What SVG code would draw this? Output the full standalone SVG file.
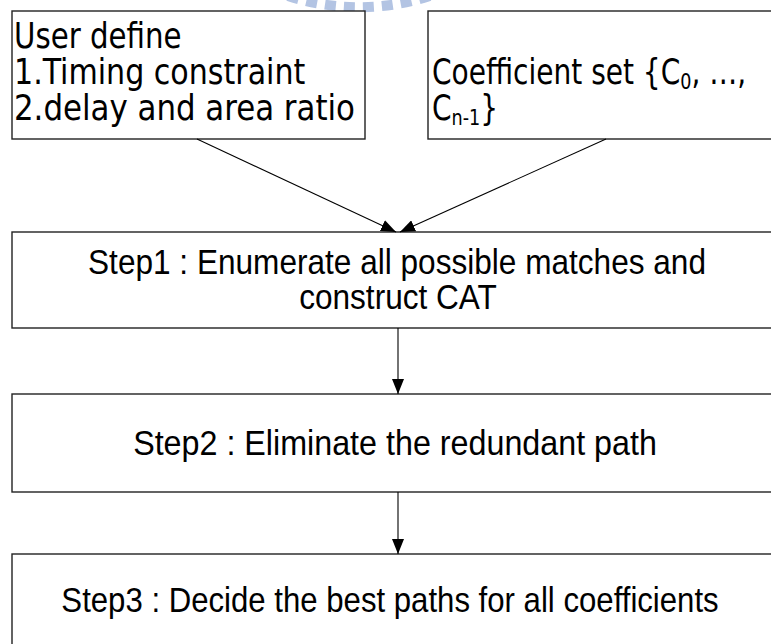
<svg xmlns="http://www.w3.org/2000/svg" width="771" height="644" viewBox="0 0 771 644">
  <style>
    .box { fill: #ffffff; stroke: #222222; stroke-width: 1.4; }
    .tah { font-family: "DejaVu Sans Condensed", "DejaVu Sans", sans-serif; font-size: 35px; fill: #000000; }
    .sub { font-size: 22px; baseline-shift: -5px; }
    .ari { font-family: "Liberation Sans", Arial, sans-serif; font-size: 35px; fill: #000000; text-anchor: middle; }
    .conn { stroke: #000000; stroke-width: 1.1; fill: none; marker-end: url(#arrow); }
  </style>
  <defs>
    <marker id="arrow" markerUnits="userSpaceOnUse" markerWidth="16" markerHeight="12" viewBox="0 0 16 12" refX="15" refY="6" orient="auto">
      <path d="M0 0 L15 6 L0 12 Z" fill="#000000"/>
    </marker>
  </defs>

  <rect width="771" height="644" fill="#ffffff"/>

  <!-- faint logo arc at the top edge -->
  <path d="M 288 -4 A 231 231 0 0 0 430 -4" fill="none" stroke="#b3c4e3" stroke-width="10" stroke-dasharray="11 8"/>

  <g id="user-define">
    <rect class="box" x="12" y="11" width="353" height="128"/>
    <text class="tah" transform="translate(14 48) scale(0.93 1)">User define</text>
    <text class="tah" transform="translate(14 84) scale(0.956 1)">1.Timing constraint</text>
    <text class="tah" transform="translate(14 120) scale(0.98 1)">2.delay and area ratio</text>
  </g>

  <g id="coefficient-set">
    <rect class="box" x="428" y="11" width="345" height="128"/>
    <text class="tah" transform="translate(432 84) scale(0.89 1)">Coefficient set {C<tspan class="sub">0</tspan>, …,</text>
    <text class="tah" transform="translate(432 120) scale(0.89 1)">C<tspan class="sub">n-1</tspan>}</text>
  </g>

  <g id="step1">
    <rect class="box" x="12" y="232" width="761" height="96"/>
    <text class="ari" transform="translate(397 274) scale(0.9025 1)">Step1 : Enumerate all possible matches and</text>
    <text class="ari" transform="translate(398 309) scale(0.9025 1)">construct CAT</text>
  </g>

  <g id="step2">
    <rect class="box" x="12" y="394" width="761" height="98"/>
    <text class="ari" transform="translate(395 455) scale(0.922 1)">Step2 : Eliminate the redundant path</text>
  </g>

  <g id="step3">
    <rect class="box" x="12" y="554" width="761" height="110"/>
    <text class="ari" transform="translate(390 612) scale(0.89 1)">Step3 : Decide the best paths for all coefficients</text>
  </g>

  <g id="connectors">
    <line class="conn" x1="197" y1="139" x2="396" y2="232"/>
    <line class="conn" x1="606" y1="139" x2="400" y2="232"/>
    <line class="conn" x1="398" y1="328" x2="398" y2="394"/>
    <line class="conn" x1="398" y1="492" x2="398" y2="554"/>
  </g>
</svg>
